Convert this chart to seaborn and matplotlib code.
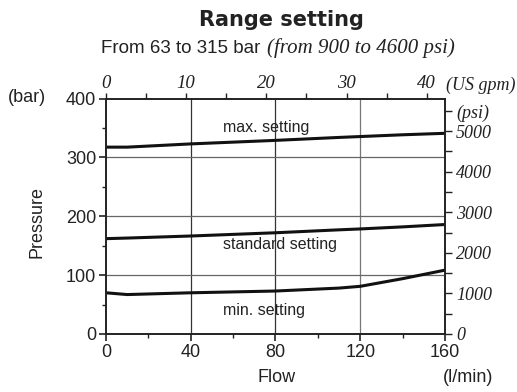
import numpy as np
import pandas as pd
import matplotlib
matplotlib.use("Agg")
import matplotlib.pyplot as plt
import seaborn as sns

# Data
flow = [0, 10, 40, 80, 110, 120, 140, 160]  # l/min
max_setting = [317.5, 317.5, 323, 329, 334, 335.5, 338.5, 341]
std_setting = [162, 163, 166.5, 172, 177, 178.5, 182, 186]
min_setting = [70, 67, 70, 73, 78, 81, 94, 108.5]
series_names = ["max. setting", "standard setting", "min. setting"]
label_pos = [(55.4, 351), (55.4, 152.5), (55.4, 39.5)]  # (flow, bar) of curve captions

bar_ticks = [0, 100, 200, 300, 400]
flow_ticks = [0, 40, 80, 120, 160]
gpm_ticks = [0, 10, 20, 30, 40]
gpm_labels = ["0", "10", "20", "30", "40"]
psi_ticks = [0, 1000, 2000, 3000, 4000, 5000, 5500]
psi_labels = ["0", "1000", "2000", "3000", "4000", "5000", "(psi)"]

LPM_PER_GPM = 3.785
PSI_PER_BAR = 14.5038

df = pd.DataFrame({
    "Flow": flow * 3,
    "Pressure": max_setting + std_setting + min_setting,
    "Setting": sum([[n] * len(flow) for n in series_names], []),
})

sns.set_style("white")
plt.rcParams["font.family"] = ["Liberation Sans", "DejaVu Sans"]
serif_it = dict(family="Liberation Serif", style="italic")
INK = "#222222"

fig = plt.figure(figsize=(5.17, 3.92), dpi=100)
ax = fig.add_axes([0.205, 0.148, 0.6557, 0.6005])

sns.lineplot(data=df, x="Flow", y="Pressure", units="Setting", estimator=None,
             color="#111111", lw=2.2, ax=ax, legend=False)

ax.set_xlim(0, 160)
ax.set_ylim(0, 400)
ax.set_xticks(flow_ticks)
ax.set_xticks([20, 60, 100, 140], minor=True)
ax.set_yticks(bar_ticks)
ax.set_yticks([50, 150, 250, 350], minor=True)
ax.tick_params(axis="both", which="major", direction="out", length=5, width=1.2,
               labelsize=13, color=INK, labelcolor=INK, pad=2)
ax.tick_params(axis="both", which="minor", direction="out", length=3, width=1.0, color=INK)
ax.tick_params(axis="y", which="both", left=True)
ax.tick_params(axis="x", which="both", bottom=True)

ax.grid(False)
for v in [40, 80, 120]:
    ax.axvline(v, color="#333333" if v < 120 else "#777777", lw=0.9, zorder=0)
for h in [100, 200, 300]:
    ax.axhline(h, color="#666666", lw=0.9, zorder=0)

for s in ax.spines.values():
    s.set_color(INK)
    s.set_linewidth(1.4)

ax.set_xlabel("")
ax.set_ylabel("")

for name, (fx, py) in zip(series_names, label_pos):
    ax.text(fx, py, name, ha="left", va="center", fontsize=11.5, color=INK)

# secondary scales
top = ax.secondary_xaxis("top", functions=(lambda x: x / LPM_PER_GPM, lambda g: g * LPM_PER_GPM))
top.set_xticks(gpm_ticks, labels=gpm_labels, fontsize=13.5, color=INK, **serif_it)
top.set_xticks([5, 15, 25, 35], minor=True)
top.tick_params(which="major", direction="out", length=4, width=1.0, pad=1, color=INK)
top.tick_params(which="minor", direction="out", length=4, width=1.0, color=INK)
top.spines["top"].set_visible(False)

right = ax.secondary_yaxis("right", functions=(lambda b: b * PSI_PER_BAR, lambda p: p / PSI_PER_BAR))
right.set_yticks(psi_ticks, labels=psi_labels, fontsize=13, color=INK, **serif_it)
right.set_yticks([500, 1500, 2500, 3500, 4500], minor=True)
right.tick_params(which="major", direction="out", length=5, width=1.0, pad=3, color=INK)
right.tick_params(which="minor", direction="out", length=5, width=1.0, color=INK)
right.spines["right"].set_visible(False)

# titles and axis captions
fig.text(0.544, 0.949, "Range setting", ha="center", va="center",
         fontsize=15, fontweight="bold", family="DejaVu Sans", color=INK)
fig.text(0.195, 0.877, "From 63 to 315 bar", ha="left", va="center", fontsize=13.5, color=INK)
fig.text(0.517, 0.877, "(from 900 to 4600 psi)", ha="left", va="center", fontsize=15,
         color=INK, **serif_it)
fig.text(0.862, 0.783, "(US gpm)", ha="left", va="center", fontsize=13, color=INK, **serif_it)
fig.text(0.016, 0.752, "(bar)", ha="left", va="center", fontsize=13, color=INK)
fig.text(0.071, 0.434, "Pressure", ha="center", va="center", rotation=90, fontsize=13, color=INK)
fig.text(0.535, 0.036, "Flow", ha="center", va="center", fontsize=13, color=INK)
fig.text(0.905, 0.036, "(l/min)", ha="center", va="center", fontsize=13, color=INK)

fig.savefig("out.png", dpi=100)
